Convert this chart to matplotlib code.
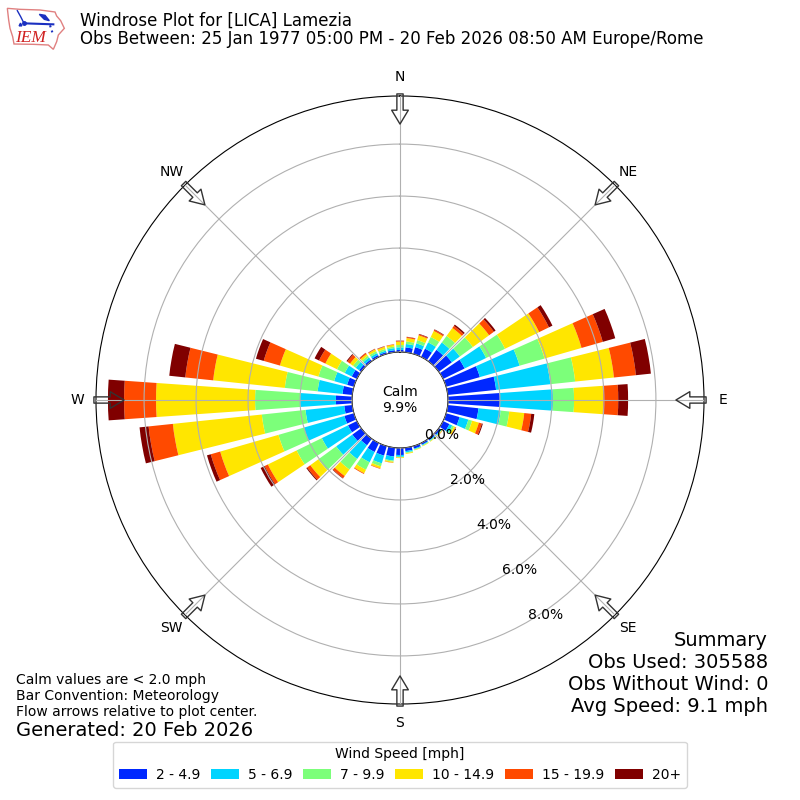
import numpy as np
import matplotlib
matplotlib.use("Agg")
import matplotlib.pyplot as plt
from matplotlib.patches import Polygon

directions = list(range(0, 360, 10))
speed_labels = ["2 - 4.9", "5 - 6.9", "7 - 9.9", "10 - 14.9", "15 - 19.9", "20+"]
speed_colors = ["#0028ff", "#00d4ff", "#7cff7a", "#ffe600", "#ff4a00", "#800000"]

s2_5 = [.08,.19,.27,.35,.54,.62,.92,1.35,1.87,2.00,1.19,.54,.27,.08,.07,.07,.10,.13,
        .27,.34,.38,.38,.31,.42,.38,.38,.31,.62,.38,.27,.22,.10,.08,.08,.07,.08]
s5_7 = [.10,.13,.15,.27,.35,.38,.92,1.59,2.10,2.04,.86,.35,.12,.04,.03,.03,.03,.05,
        .07,.16,.31,.44,.65,.77,1.12,1.62,1.50,1.38,.96,.52,.30,.16,.10,.08,.06,.08]
s7_10 = [.09,.10,.13,.23,.31,.62,.81,1.00,.96,.81,.33,.15,.08,.02,.02,.02,.02,.03,
         .02,.04,.12,.32,.50,.85,1.08,1.02,1.69,1.73,1.27,.63,.33,.13,.08,.08,.07,.06]
s10_15 = [.13,.13,.19,.26,.38,.77,1.46,1.48,1.50,1.12,.58,.27,.06,.02,.02,.02,.02,.03,
          .03,.04,.08,.15,.31,.38,1.23,2.33,3.44,3.81,2.77,1.54,.50,.14,.08,.08,.08,.07]
s15_20 = [.03,.04,.04,.05,.10,.23,.42,.85,.85,.58,.27,.12,.02,.01,.00,.00,.00,.00,
          .00,.01,.02,.03,.10,.15,.14,.38,.94,1.23,1.08,.65,.27,.13,.05,.02,.02,.02]
s20 = [.01,.01,.02,.02,.06,.08,.15,.50,.58,.38,.12,.04,.01,.00,.00,.00,.00,.00,
       .00,.00,.00,.00,.02,.04,.17,.15,.35,.62,.62,.31,.19,.04,.01,.01,.01,.00]
speed_series = [s2_5, s5_7, s7_10, s10_15, s15_20, s20]

radial_ticks = [0, 2, 4, 6, 8]
compass_deg = [0, 45, 90, 135, 180, 225, 270, 315]
compass_names = ["N", "NE", "E", "SE", "S", "SW", "W", "NW"]
bar_width_deg = 8.0

fig = plt.figure(figsize=(8, 8), dpi=100)
ax = fig.add_axes([0.12, 0.12, 0.76, 0.76], projection="polar")
ax.set_theta_zero_location("N")
ax.set_theta_direction(-1)

theta = np.deg2rad(directions)
bottom = np.zeros(len(directions))
handles = []
for vals, col, lab in zip(speed_series, speed_colors, speed_labels):
    v = np.array(vals)
    b = ax.bar(theta, v, width=np.deg2rad(bar_width_deg), bottom=bottom,
               color=col, linewidth=0, label=lab, zorder=2)
    handles.append(b)
    bottom = bottom + v

ax.set_rorigin(-1.846)
ax.set_rlim(0, 9.85)
ax.set_axisbelow(False)
ax.set_rgrids(radial_ticks, labels=[f"{t:.1f}%" for t in radial_ticks], angle=150, fontsize=10)
ax.set_thetagrids(compass_deg, labels=compass_names, fontsize=10)
ax.tick_params(axis="x", pad=3)
ax.grid(True, color="#b0b0b0", linewidth=0.8)

for d in compass_deg:
    ax.annotate("", xy=(np.deg2rad(d), 8.77), xytext=(np.deg2rad(d), 9.93),
                xycoords="data", textcoords="data", annotation_clip=False,
                arrowprops=dict(facecolor="none", edgecolor="#333333", linewidth=1.0,
                                width=4.5, headwidth=12, headlength=10), zorder=5)

fig.text(0.5, 0.5, "Calm\n9.9%", ha="center", va="center", fontsize=10, linespacing=1.1)

fig.text(80 / 800, 1 - 20.5 / 800, "Windrose Plot for [LICA] Lamezia", fontsize=12.01, va="center", ha="left")
fig.text(80 / 800, 1 - 38.5 / 800, "Obs Between: 25 Jan 1977 05:00 PM - 20 Feb 2026 08:50 AM Europe/Rome",
         fontsize=12.01, va="center", ha="left")

for y, s in zip([640, 662, 684, 706],
                ["Summary", "Obs Used: 305588", "Obs Without Wind: 0", "Avg Speed: 9.1 mph"]):
    fig.text(768 / 800, 1 - y / 800, s, fontsize=14, ha="right", va="center")

for y, s in zip([680, 696, 712],
                ["Calm values are < 2.0 mph", "Bar Convention: Meteorology", "Flow arrows relative to plot center."]):
    fig.text(16 / 800, 1 - y / 800, s, fontsize=10, ha="left", va="center")
fig.text(16 / 800, 1 - 730 / 800, "Generated: 20 Feb 2026", fontsize=14, ha="left", va="center")

fig.legend(handles=handles, labels=speed_labels, title="Wind Speed [mph]", ncol=6,
           loc="lower center", bbox_to_anchor=(0.5, 0.0068), fontsize=10, title_fontsize=10,
           columnspacing=0.785, handletextpad=0.65)

# IEM logo
lg = fig.add_axes([0, 1 - 60 / 800, 120 / 800, 60 / 800])
lg.set_xlim(0, 360)
lg.set_ylim(180, 0)
lg.axis("off")
outline = [(22, 25), (60, 28), (120, 30), (165, 36), (170, 48), (182, 62), (193, 85), (175, 105),
           (170, 125), (160, 148), (145, 135), (100, 133), (42, 132), (38, 110), (30, 85), (26, 60)]
lg.add_patch(Polygon(outline, closed=True, facecolor="white", edgecolor="#e08080", linewidth=1.0))
lg.plot([52, 62, 72], [32, 50, 70], color="#1a2fc0", lw=1.0)
lg.plot([72, 160], [70, 73], color="#1a2fc0", lw=1.5)
lg.plot([72], [70], marker="o", color="#1a2fc0", ms=2.5)
lg.plot([60], [72], marker="^", color="#1a2fc0", ms=2)
lg.add_patch(Polygon([(118, 43), (135, 46), (148, 62), (133, 58)], closed=True, color="#1a2fc0"))
lg.plot([150, 157], [76, 97], color="#1a2fc0", lw=1.5, ls=":")
lg.text(90, 113, "IEM", color="#d02020", family="Liberation Serif", style="italic",
        fontsize=12.5, ha="center", va="center")

fig.savefig("out.png", dpi=100)
